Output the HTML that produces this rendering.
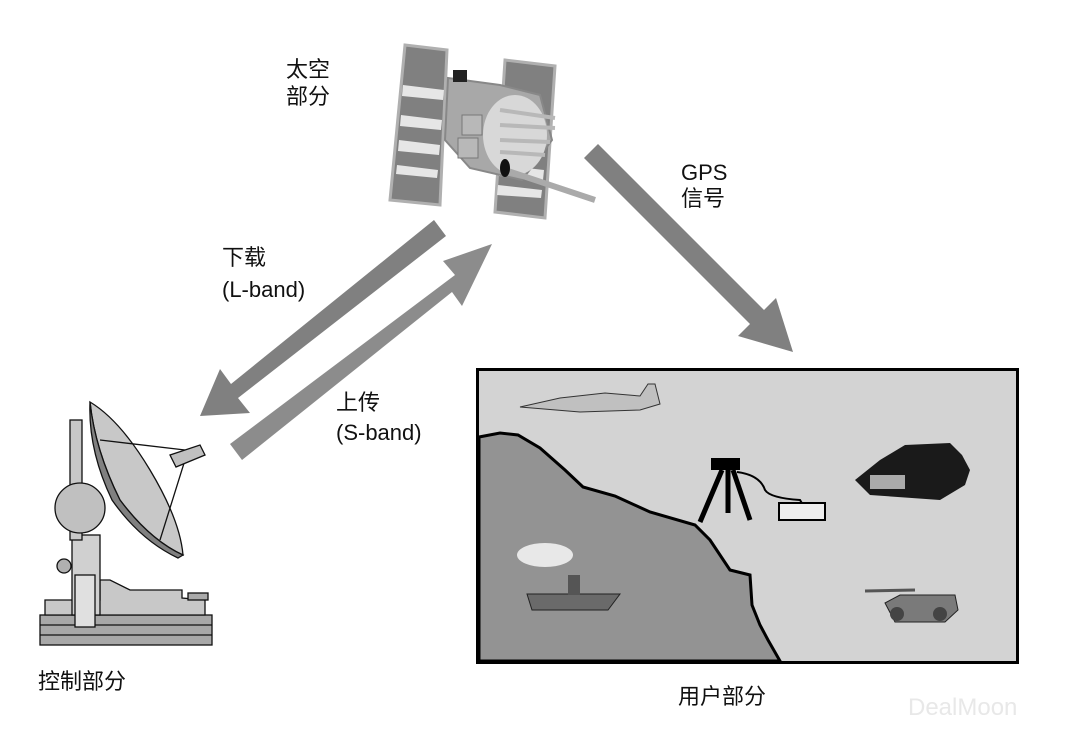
<!DOCTYPE html>
<html><head><meta charset="utf-8"><style>
html,body{margin:0;padding:0;background:#fff;}
svg{display:block}
text{font-family:"Liberation Sans","Noto Sans CJK SC",sans-serif;font-size:22px;fill:#111}
</style></head><body>
<svg width="1078" height="730" viewBox="0 0 1078 730" xmlns="http://www.w3.org/2000/svg">
<!-- arrows -->
<g fill="#808080">
<polygon points="434,220 446,236 238,398 250,413 200,416 220,369 231,384"/>
<polygon points="230,444 242,460 452,292 462,306 492,244 443,261 455,275" fill="#8c8c8c"/>
<polygon points="584,158 598,144 764,310 776,298 793,352 738,336 750,324"/>
</g>
<!-- satellite -->
<g stroke="#b0b0b0" stroke-width="3">
<polygon points="405,45 447,50 440,205 390,200" fill="#808080"/>
<polygon points="505,60 555,66 545,218 495,212" fill="#808080"/>
</g>
<g fill="#e6e6e6">
<polygon points="403,85 444,90 443,100 402,96"/><polygon points="401,115 442,120 441,130 400,126"/>
<polygon points="399,140 440,145 439,155 398,151"/><polygon points="397,165 438,170 437,178 396,174"/>
<polygon points="500,165 544,170 543,180 499,176"/><polygon points="498,185 542,190 541,198 497,195"/>
</g>
<polygon points="448,78 500,85 540,95 552,140 522,180 470,168 445,140" fill="#a8a8a8" stroke="#888" stroke-width="2"/>
<rect x="462" y="115" width="20" height="20" fill="#b8b8b8" stroke="#777" stroke-width="1"/>
<rect x="458" y="138" width="20" height="20" fill="#b8b8b8" stroke="#777" stroke-width="1"/>
<ellipse cx="515" cy="135" rx="32" ry="40" fill="#d8d8d8"/>
<g stroke="#b8b8b8" stroke-width="4"><line x1="500" y1="110" x2="555" y2="118"/><line x1="500" y1="125" x2="555" y2="128"/><line x1="500" y1="140" x2="550" y2="142"/><line x1="500" y1="152" x2="545" y2="155"/></g>
<line x1="505" y1="170" x2="595" y2="200" stroke="#aaa" stroke-width="6"/>
<ellipse cx="505" cy="168" rx="5" ry="9" fill="#111"/>
<rect x="453" y="70" width="14" height="12" fill="#222"/>
<!-- dish -->
<g stroke="#111" stroke-width="1.3">
<rect x="40" y="615" width="172" height="30" fill="#a8a8a8"/>
<line x1="40" y1="625" x2="212" y2="625"/><line x1="40" y1="635" x2="212" y2="635"/>
<polygon points="45,600 45,615 205,615 205,600 182,598 182,590 130,590 110,580 100,580 100,600" fill="#c8c8c8"/>
<rect x="72" y="535" width="28" height="80" fill="#d0d0d0"/>
<rect x="75" y="575" width="20" height="52" fill="#e0e0e0"/>
<rect x="70" y="420" width="12" height="120" fill="#c8c8c8"/>
<circle cx="80" cy="508" r="25" fill="#c0c0c0"/>
<circle cx="64" cy="566" r="7" fill="#b0b0b0"/>
<path d="M90,402 Q120,420 150,470 Q180,520 183,555 Q150,540 120,500 Q95,450 90,402 Z" fill="#c8c8c8"/>
<path d="M90,402 Q95,450 120,500 Q150,540 183,555 L178,558 Q140,540 112,500 Q88,450 90,402Z" fill="#808080"/>
<line x1="100" y1="440" x2="185" y2="450" /><line x1="160" y1="540" x2="185" y2="460"/>
<polygon points="170,455 200,445 205,455 176,467" fill="#c0c0c0"/>
<rect x="188" y="593" width="20" height="7" fill="#aaa"/>
</g>
<!-- user box -->
<rect x="477.5" y="369.5" width="540" height="293" fill="#d3d3d3" stroke="#000" stroke-width="3"/>
<path d="M479,437 L500,433 L518,435 L540,448 L565,470 L583,487 L615,496 L650,512 L695,525 L710,540 L730,570 L750,575 L752,605 L760,625 L768,640 L780,661 L479,661 Z" fill="#939393" stroke="#000" stroke-width="3"/>
<!-- jet -->
<polygon points="520,407 560,398 605,393 640,396 648,384 655,384 660,404 640,410 580,412" fill="#c0c0c0" stroke="#333" stroke-width="1"/>
<!-- tripod -->
<rect x="711" y="458" width="29" height="12" fill="#000"/>
<g stroke="#000" stroke-width="5"><line x1="722" y1="470" x2="700" y2="522"/><line x1="728" y1="470" x2="728" y2="513"/><line x1="733" y1="470" x2="750" y2="520"/></g>
<path d="M737,472 Q760,475 765,490 Q770,498 800,500 L803,505" fill="none" stroke="#000" stroke-width="2"/>
<rect x="779" y="503" width="46" height="17" fill="#eee" stroke="#000" stroke-width="2"/>
<!-- car -->
<path d="M855,480 L880,460 L905,445 L950,443 L962,455 L970,470 L965,485 L940,500 L870,495 Z" fill="#1a1a1a"/>
<rect x="870" y="475" width="35" height="14" fill="#aaa"/>
<!-- ship -->
<ellipse cx="545" cy="555" rx="28" ry="12" fill="#e8e8e8"/>
<polygon points="527,594 620,594 608,610 532,610" fill="#6a6a6a" stroke="#222" stroke-width="1"/>
<rect x="568" y="575" width="12" height="20" fill="#555"/>
<!-- tank -->
<path d="M885,603 L900,595 L955,595 L958,610 L945,622 L895,622 Z" fill="#7a7a7a" stroke="#222" stroke-width="1"/>
<circle cx="897" cy="614" r="7" fill="#444"/><circle cx="940" cy="614" r="7" fill="#444"/>
<line x1="865" y1="591" x2="915" y2="590" stroke="#555" stroke-width="3"/>
<!-- labels -->
<text x="286" y="77">太空</text><text x="286" y="104">部分</text>
<text x="681" y="180">GPS</text><text x="681" y="206">信号</text>
<text x="222" y="265">下载</text><text x="222" y="297">(L-band)</text>
<text x="336" y="410">上传</text><text x="336" y="440">(S-band)</text>
<text x="38" y="689">控制部分</text>
<text x="678" y="704">用户部分</text>
<text x="908" y="715" style="font-size:24px;fill:#e8e8e8">DealMoon</text>
</svg>
</body></html>
